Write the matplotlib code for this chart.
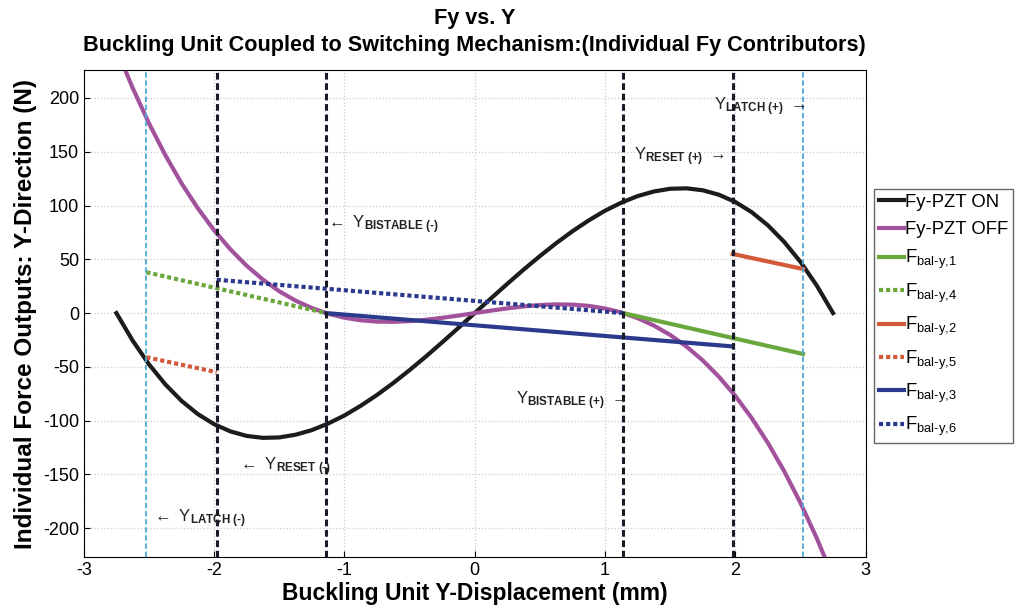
import matplotlib
matplotlib.use("Agg")
import matplotlib.pyplot as plt

plt.rcParams['font.family'] = ['Liberation Sans', 'DejaVu Sans']
plt.rcParams['mathtext.fontset'] = 'custom'
plt.rcParams['mathtext.rm'] = 'Liberation Sans'
plt.rcParams['mathtext.bf'] = 'Liberation Sans:bold'
plt.rcParams['mathtext.it'] = 'Liberation Sans:italic'
plt.rcParams['axes.unicode_minus'] = False

# förskjutning (mm)
y_pos = [-2.75, -2.625, -2.5, -2.375, -2.25, -2.125, -2.0, -1.875, -1.75, -1.625,
         -1.5, -1.375, -1.25, -1.125, -1.0, -0.875, -0.75, -0.625, -0.5, -0.375,
         -0.25, -0.125, 0.0, 0.125, 0.25, 0.375, 0.5, 0.625, 0.75, 0.875, 1.0,
         1.125, 1.25, 1.375, 1.5, 1.625, 1.75, 1.875, 2.0, 2.125, 2.25, 2.375,
         2.5, 2.625, 2.75]

# Fy med PZT på
fy_on = [0.0, -25.6, -47.6, -66.2, -81.6, -93.9, -103.3, -110.0, -114.2, -116.0,
         -115.6, -113.1, -108.8, -102.7, -95.2, -86.2, -76.1, -65.0, -53.0, -40.4,
         -27.2, -13.7, 0.0, 13.7, 27.2, 40.4, 53.0, 65.0, 76.1, 86.2, 95.2,
         102.7, 108.8, 113.1, 115.6, 116.0, 114.2, 110.0, 103.3, 93.9, 81.6, 66.2,
         47.6, 25.6, 0.0]

# Fy med PZT av
fy_off = [245.6, 209.3, 176.5, 147.0, 120.7, 97.5, 77.0, 59.3, 44.0, 31.1,
          20.3, 11.6, 4.7, -0.6, -4.3, -6.7, -7.9, -8.1, -7.5, -6.2,
          -4.4, -2.3, 0.0, 2.3, 4.4, 6.2, 7.5, 8.1, 7.9, 6.7, 4.3,
          0.6, -4.7, -11.6, -20.3, -31.1, -44.0, -59.3, -77.0, -97.5, -120.7, -147.0,
          -176.5, -209.3, -245.6]

# balanseringskrafter, start- och slutpunkter
f1_x, f1_y = [1.14, 2.52], [0.0, -38.0]
f4_x, f4_y = [-2.52, -1.14], [38.0, 0.0]
f2_x, f2_y = [1.98, 2.52], [55.0, 41.0]
f5_x, f5_y = [-2.52, -1.98], [-41.0, -55.0]
f3_x, f3_y = [-1.14, 1.98], [0.0, -31.0]
f6_x, f6_y = [-1.98, 1.14], [31.0, 0.0]

# lägen
latch = [-2.52, 2.52]
reset_bistable = [-1.98, -1.14, 1.14, 1.98]

fig = plt.figure(figsize=(10.22, 6.09), dpi=100)
ax = fig.add_axes([0.082, 0.085, 0.765, 0.80])

dots = (0, (1.0, 0.7))
ax.plot(y_pos, fy_on, color='#1c1c1c', lw=3, label='Fy-PZT ON')
ax.plot(y_pos, fy_off, color='#a2529c', lw=3, label='Fy-PZT OFF')
ax.plot(f1_x, f1_y, color='#6aa73c', lw=3, label=r'F$_{\text{bal-y,1}}$')
ax.plot(f4_x, f4_y, color='#6aa73c', lw=3, ls=dots, label=r'F$_{\text{bal-y,4}}$')
ax.plot(f2_x, f2_y, color='#d4593a', lw=3, label=r'F$_{\text{bal-y,2}}$')
ax.plot(f5_x, f5_y, color='#d4593a', lw=3, ls=dots, label=r'F$_{\text{bal-y,5}}$')
ax.plot(f3_x, f3_y, color='#2c3a8e', lw=3, label=r'F$_{\text{bal-y,3}}$')
ax.plot(f6_x, f6_y, color='#2c3a8e', lw=3, ls=dots, label=r'F$_{\text{bal-y,6}}$')

for x in latch:
    ax.axvline(x, color='#4fa8dc', lw=1.3, ls=(0, (3, 1.5)))
for x in reset_bistable:
    ax.axvline(x, color='#1a1a28', lw=2.2, ls=(0, (2.2, 1.2)))

txt = dict(fontsize=12, color='#222222')
ax.text(-1.14, 82, '$\\leftarrow$ Y$_{\\bf BISTABLE\\ (\u2010)}$', ha='left', va='center', **txt)
ax.text(0.32, -81, r'Y$_{\bf BISTABLE\ (+)}$ $\rightarrow$', ha='left', va='center', **txt)
ax.text(1.22, 145, r'Y$_{\bf RESET\ (+)}$ $\rightarrow$', ha='left', va='center', **txt)
ax.text(-1.82, -143, '$\\leftarrow$ Y$_{\\bf RESET\\ (\u2010)}$', ha='left', va='center', **txt)
ax.text(1.84, 192, r'Y$_{\bf LATCH\ (+)}$ $\rightarrow$', ha='left', va='center', **txt)
ax.text(-2.48, -191, '$\\leftarrow$ Y$_{\\bf LATCH\\ (\u2010)}$', ha='left', va='center', **txt)

ax.set_xlim(-3, 3)
ax.set_ylim(-227, 226)
ax.set_xticks([-3, -2, -1, 0, 1, 2, 3])
ax.set_yticks(range(-200, 201, 50))
ax.tick_params(labelsize=13, direction='in', length=4)
ax.grid(True, color='#cccccc', ls=':', lw=0.9)
ax.set_axisbelow(True)

ax.set_xlabel('Buckling Unit Y-Displacement (mm)', fontsize=16.5, fontweight='bold', labelpad=2)
ax.set_ylabel('Individual Force Outputs: Y-Direction (N)', fontsize=17.5, fontweight='bold')
ax.set_title('Fy vs. Y\nBuckling Unit Coupled to Switching Mechanism:(Individual Fy Contributors)',
             fontsize=15.6, fontweight='bold', linespacing=1.35, pad=14)

ax.legend(loc='center left', bbox_to_anchor=(1.006, 0.495), fontsize=13.3,
          handlelength=1.4, handletextpad=0.05, labelspacing=0.55,
          borderpad=0.25, borderaxespad=0.2, fancybox=False,
          edgecolor='#666666', framealpha=1)

fig.savefig('out.png', dpi=100)
